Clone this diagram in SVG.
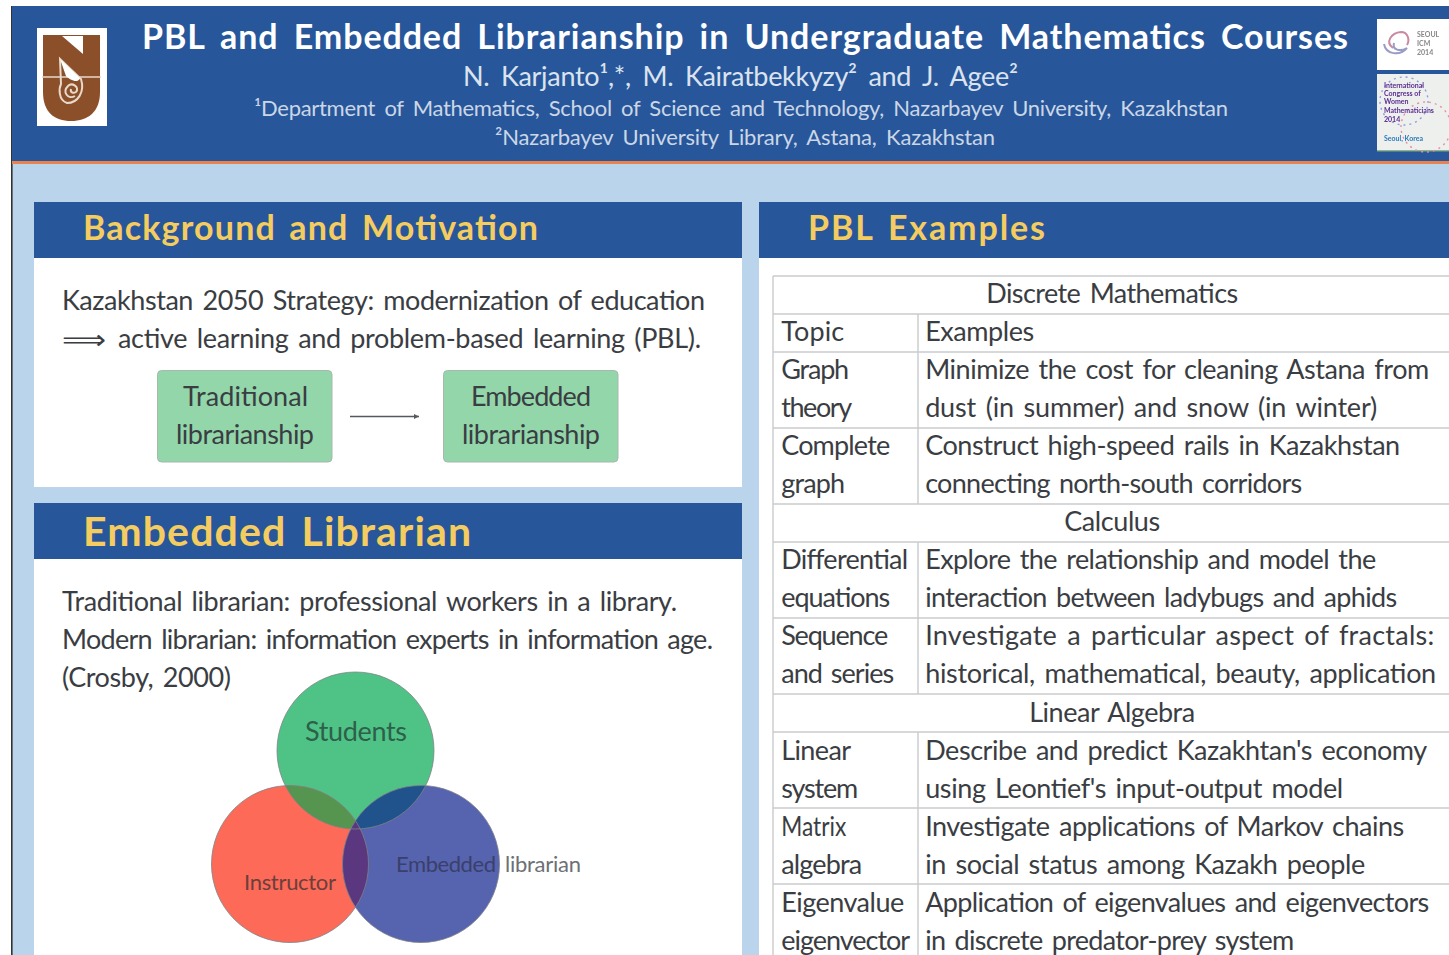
<svg xmlns="http://www.w3.org/2000/svg" width="1449" height="955" viewBox="0 0 1449 955">
<style>
text{font-family:"Lato","Open Sans","Liberation Sans",sans-serif;fill:#3a3d42;font-size:27px;word-spacing:3px}
.h{fill:#27579a}
.w{fill:#fff}
.sec{font-weight:700;fill:#f5cc5f;font-size:34px;word-spacing:4px}
.rule{stroke:#c9cbcd;stroke-width:1.4;fill:none}
.box{fill:#92d6aa;stroke:#a9b8ae;stroke-width:1}
.conn{stroke:#55585c;stroke-width:1.3;fill:none}
.ring{fill:none;stroke:#7d8285;stroke-width:.8}
.mini{font-size:7px;font-weight:700;word-spacing:0}
</style>
<defs>
<marker id="ah" markerWidth="6" markerHeight="6" refX="4" refY="3" orient="auto"><path d="M0,1 L4,3 L0,5 Z" fill="#55585c"/></marker>
<clipPath id="cs"><circle cx="355.5" cy="750.5" r="78.5"/></clipPath>
<clipPath id="cb"><circle cx="421" cy="864" r="78.5"/></clipPath>
<filter id="soft" x="-5%" y="-5%" width="110%" height="110%"><feGaussianBlur stdDeviation=".7"/></filter>
</defs>
<rect width="1449" height="955" fill="#fff"/>
<rect x="12" y="6" width="1437" height="949" fill="#bad4ec"/>
<rect x="11" y="6" width="1.6" height="949" fill="#333"/>
<g id="header">
<rect class="h" x="12" y="6" width="1437" height="156"/>
<rect x="12" y="161" width="1437" height="3" fill="#e8834f"/>
<text x="142" y="49" textLength="1206" style="font-size:34px;font-weight:700;fill:#fff;word-spacing:6px">PBL and Embedded Librarianship in Undergraduate Mathematics Courses</text>
<text x="463" y="86" textLength="555" style="fill:#dbe3ef;word-spacing:5px">N. Karjanto¹,*, M. Kairatbekkyzy² and J. Agee²</text>
<text x="254" y="116" textLength="974" style="font-size:22px;fill:#cbd6e6;word-spacing:4px">¹Department of Mathematics, School of Science and Technology, Nazarbayev University, Kazakhstan</text>
<text x="495" y="145" textLength="500" style="font-size:22px;fill:#cbd6e6;word-spacing:4px">²Nazarbayev University Library, Astana, Kazakhstan</text>
</g>
<g id="logo-nu" filter="url(#soft)">
<rect x="37" y="28" width="70" height="98" fill="#fff"/>
<path d="M43,35 H100 V92 C100,112 88,121 71,121 C54,121 43,112 43,92 Z" fill="#8b4f2c"/>
<path d="M62,36 L83,54 V36 Z" fill="#fff"/>
<path d="M42,77 H101" stroke="#e8d9c8" stroke-width="1.4"/>
<path d="M60,59 L81,79 C85,92 78,103 67,103 C58,100 59,88 61,84 Z" fill="none" stroke="#e8d9c8" stroke-width="2"/>
<path d="M60,59 L80,78 C78,84 70,80 66,76 Z" fill="#fff"/>
<path d="M75,96 C68,100 62,92 68,86 C72,82 80,87 76,92 C73,94 70,92 71,89" fill="none" stroke="#e8d9c8" stroke-width="2"/>
</g>
<g id="logo-icm" filter="url(#soft)">
<rect x="1377" y="19" width="72" height="51" fill="#fff"/>
<path d="M1393,48 C1385,42 1391,33 1401,32 C1408,32 1410,40 1407,45" fill="none" stroke="#c98aa0" stroke-width="2"/>
<path d="M1384,44 C1386,55 1400,56 1407,48 C1400,52 1392,50 1394,43" fill="none" stroke="#9a9cc8" stroke-width="2"/>
<text class="mini" x="1417" y="37" style="fill:#888">SEOUL</text>
<text class="mini" x="1417" y="46" style="fill:#888">ICM</text>
<text class="mini" x="1417" y="55" style="fill:#888">2014</text>
</g>
<g id="logo-wm" filter="url(#soft)">
<rect x="1377" y="74" width="72" height="77" fill="#eef0ee"/>
<rect x="1377" y="150" width="72" height="1.4" fill="#8fb58c"/>
<circle cx="1404" cy="101" r="24" fill="none" stroke="#8f9be0" stroke-width="1.4" stroke-dasharray="2 4"/>
<circle cx="1426" cy="127" r="25" fill="none" stroke="#e88fa0" stroke-width="1.4" stroke-dasharray="2 4"/>
<text class="mini" x="1384" y="88" style="fill:#5a2d91">International</text>
<text class="mini" x="1384" y="96" style="fill:#5a2d91">Congress of</text>
<text class="mini" x="1384" y="104" style="fill:#5a2d91">Women</text>
<text class="mini" x="1384" y="113" style="fill:#5a2d91">Mathematicians</text>
<text class="mini" x="1384" y="122" style="fill:#5a2d91">2014</text>
<text class="mini" x="1384" y="141" style="fill:#2a7bb8">Seoul, Korea</text>
</g>
<g id="panel-background">
<rect class="w" x="34" y="258" width="708" height="229"/>
<rect class="h" x="34" y="202" width="708" height="56"/>
<text class="sec" x="83" y="240" textLength="455">Background and Motivation</text>
<text x="62" y="310" textLength="643">Kazakhstan 2050 Strategy: modernization of education</text>
<text x="62" y="349" textLength="44" lengthAdjust="spacingAndGlyphs" style="font-family:'DejaVu Sans',sans-serif">⟹</text>
<text x="118" y="348" textLength="583">active learning and problem-based learning (PBL).</text>
</g>
<g id="node-traditional">
<rect class="box" x="157.5" y="370.5" width="174.5" height="91.5" rx="4"/>
<text x="183" y="406" textLength="125">Traditional</text>
<text x="176" y="444" textLength="138">librarianship</text>
</g>
<g id="node-embedded">
<rect class="box" x="443.5" y="370.5" width="174.5" height="91.5" rx="4"/>
<text x="471" y="406" textLength="120">Embedded</text>
<text x="462" y="444" textLength="138">librarianship</text>
</g>
<g id="connectors">
<path class="conn" d="M350,416.5 H419" marker-end="url(#ah)"/>
</g>
<g id="panel-embedded">
<rect class="w" x="34" y="559" width="708" height="396"/>
<rect class="h" x="34" y="503" width="708" height="56"/>
<text class="sec" x="83" y="546" textLength="388" style="font-size:41px">Embedded Librarian</text>
<text x="62" y="611" textLength="615">Traditional librarian: professional workers in a library.</text>
<text x="62" y="649" textLength="651">Modern librarian: information experts in information age.</text>
<text x="62" y="687" textLength="169">(Crosby, 2000)</text>
</g>
<g id="node-students"><circle cx="355.5" cy="750.5" r="78.5" fill="#4fc386"/></g>
<g id="node-instructor"><circle cx="290" cy="864" r="78.5" fill="#fd6a58"/></g>
<g id="node-librarian"><circle cx="421" cy="864" r="78.5" fill="#5663ae"/></g>
<g id="overlaps">
<circle cx="290" cy="864" r="78.5" fill="#55954f" clip-path="url(#cs)"/>
<circle cx="421" cy="864" r="78.5" fill="#20528c" clip-path="url(#cs)"/>
<circle cx="290" cy="864" r="78.5" fill="#5b3780" clip-path="url(#cb)"/>
<circle class="ring" cx="355.5" cy="750.5" r="78.5"/>
<circle class="ring" cx="290" cy="864" r="78.5"/>
<circle class="ring" cx="421" cy="864" r="78.5"/>
<text x="305" y="741" textLength="102" style="fill:#2d5f4a">Students</text>
<text x="244" y="890" textLength="92" style="font-size:22px;fill:#6b3f3c">Instructor</text>
<text x="396" y="872" textLength="100" style="font-size:22px;fill:#3a3f6c">Embedded</text>
<text x="505" y="872" textLength="76" style="font-size:22px;fill:#6d7074">librarian</text>
</g>
<g id="panel-pbl">
<rect class="w" x="759" y="258" width="690" height="697"/>
<rect class="h" x="759" y="202" width="690" height="56"/>
<text class="sec" x="808" y="240" textLength="237">PBL Examples</text>
<path class="rule" d="M773,276 V955 M773,276 H1449 M773,314 H1449 M773,352 H1449 M773,428 H1449 M773,504 H1449 M773,542 H1449 M773,618 H1449 M773,694 H1449 M773,732 H1449 M773,808 H1449 M773,884 H1449 M918,314 V504 M918,542 V694 M918,732 V955"/>
<g transform="translate(-.8 0)">
<text x="987" y="303" textLength="252">Discrete Mathematics</text>
<text x="782" y="341" textLength="63">Topic</text>
<text x="926" y="341" textLength="109">Examples</text>
<text x="782" y="379" textLength="68">Graph</text>
<text x="782" y="417" textLength="71">theory</text>
<text x="926" y="379" textLength="504">Minimize the cost for cleaning Astana from</text>
<text x="926" y="417" textLength="452">dust (in summer) and snow (in winter)</text>
<text x="782" y="455" textLength="109">Complete</text>
<text x="782" y="493" textLength="64">graph</text>
<text x="926" y="455" textLength="475">Construct high-speed rails in Kazakhstan</text>
<text x="926" y="493" textLength="377">connecting north-south corridors</text>
<text x="1065" y="531" textLength="96">Calculus</text>
<text x="782" y="569" textLength="127">Differential</text>
<text x="782" y="607" textLength="109">equations</text>
<text x="926" y="569" textLength="451">Explore the relationship and model the</text>
<text x="926" y="607" textLength="472">interaction between ladybugs and aphids</text>
<text x="782" y="645" textLength="107">Sequence</text>
<text x="782" y="683" textLength="113">and series</text>
<text x="926" y="645" textLength="509">Investigate a particular aspect of fractals:</text>
<text x="926" y="683" textLength="511">historical, mathematical, beauty, application</text>
<text x="1030" y="722" textLength="166">Linear Algebra</text>
<text x="782" y="760" textLength="70">Linear</text>
<text x="782" y="798" textLength="77">system</text>
<text x="926" y="760" textLength="502">Describe and predict Kazakhtan's economy</text>
<text x="926" y="798" textLength="418">using Leontief's input-output model</text>
<text x="782" y="836" textLength="65" lengthAdjust="spacingAndGlyphs">Matrix</text>
<text x="782" y="874" textLength="81">algebra</text>
<text x="926" y="836" textLength="479">Investigate applications of Markov chains</text>
<text x="926" y="874" textLength="440">in social status among Kazakh people</text>
<text x="782" y="912" textLength="123">Eigenvalue</text>
<text x="782" y="950" textLength="129">eigenvector</text>
<text x="926" y="912" textLength="504">Application of eigenvalues and eigenvectors</text>
<text x="926" y="950" textLength="369">in discrete predator-prey system</text>
</g>
</g>
</svg>
